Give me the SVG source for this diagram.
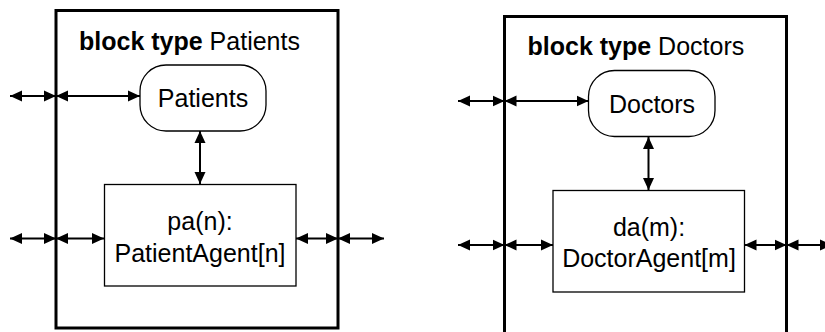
<svg xmlns="http://www.w3.org/2000/svg" width="825" height="332" viewBox="0 0 825 332">
<style>
text{font-family:"Liberation Sans",Arial,sans-serif;font-size:25px;fill:#000}
.b{font-weight:bold}
.outer{fill:none;stroke:#000;stroke-width:3}
.node{fill:#fff;stroke:#000;stroke-width:1.3}
.c{stroke:#000;stroke-width:2;fill:none;marker-start:url(#ah);marker-end:url(#ah)}
</style>
<defs>
<marker id="ah" markerUnits="userSpaceOnUse" markerWidth="13" markerHeight="13" viewBox="0 0 13 13" refX="12" refY="6.5" orient="auto-start-reverse">
<path d="M0,1 L12,6.5 L0,12 Z" fill="#000"/>
</marker>
</defs>
<g id="blockPatients">
<rect class="outer" x="56" y="10.5" width="282" height="317.5"/>
<text x="79" y="50"><tspan class="b">block type</tspan> Patients</text>
</g>
<g id="blockDoctors">
<rect class="outer" x="504.5" y="16.5" width="282" height="330"/>
<text x="527.5" y="55"><tspan class="b">block type</tspan> Doctors</text>
</g>
<g id="patients">
<rect class="node" x="140" y="65" width="126" height="66" rx="26" ry="26"/>
<text x="203" y="107" text-anchor="middle">Patients</text>
</g>
<g id="patientAgent">
<rect class="node" x="104.5" y="184.5" width="191.5" height="101.5"/>
<text x="200" y="230" text-anchor="middle">pa(n):</text>
<text x="200" y="262" text-anchor="middle">PatientAgent[n]</text>
</g>
<g id="doctors">
<rect class="node" x="588.5" y="70.5" width="126.5" height="66" rx="26" ry="26"/>
<text x="652" y="112.5" text-anchor="middle">Doctors</text>
</g>
<g id="doctorAgent">
<rect class="node" x="553" y="190.5" width="191.5" height="101.5"/>
<text x="649" y="235.5" text-anchor="middle">da(m):</text>
<text x="649" y="267" text-anchor="middle">DoctorAgent[m]</text>
</g>
<g id="connectors">
<line class="c" x1="10" y1="96" x2="56" y2="96"/>
<line class="c" x1="56" y1="96" x2="140" y2="96"/>
<line class="c" x1="200" y1="131" x2="200" y2="184"/>
<line class="c" x1="10" y1="238.5" x2="56" y2="238.5"/>
<line class="c" x1="56" y1="238.5" x2="104" y2="238.5"/>
<line class="c" x1="296" y1="238.5" x2="338" y2="238.5"/>
<line class="c" x1="338" y1="238.5" x2="384" y2="238.5"/>
<line class="c" x1="458" y1="101" x2="504.5" y2="101"/>
<line class="c" x1="504.5" y1="101" x2="588.5" y2="101"/>
<line class="c" x1="648.5" y1="137" x2="648.5" y2="190"/>
<line class="c" x1="458" y1="245" x2="504.5" y2="245"/>
<line class="c" x1="504.5" y1="245" x2="553" y2="245"/>
<line class="c" x1="744.5" y1="245" x2="786.5" y2="245"/>
<line class="c" x1="786.5" y1="245" x2="832" y2="245"/>
</g>
</svg>
